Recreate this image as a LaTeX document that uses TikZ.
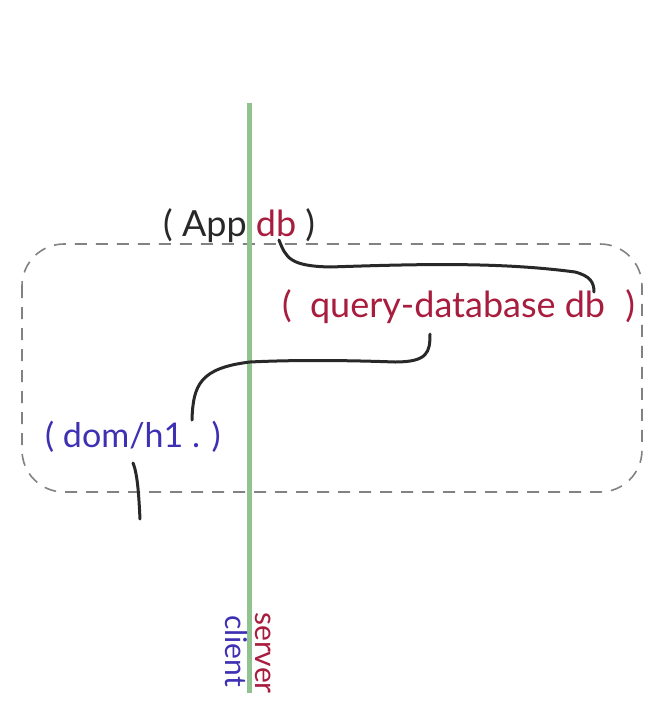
\documentclass[tikz,border=0pt]{standalone}
\usepackage{fontspec}
\setmainfont{Lato}
\definecolor{wire}{RGB}{40,40,40}
\definecolor{srv}{RGB}{168,28,62}
\definecolor{cli}{RGB}{62,48,178}
\definecolor{sepgreen}{RGB}{145,195,145}
\definecolor{dashgray}{RGB}{130,130,130}
\tikzset{
  lbl/.style={inner sep=0pt, font=\fontsize{36}{40}\selectfont},
  side/.style={inner sep=0pt, rotate=-90, anchor=base west, font=\fontsize{30}{34}\selectfont},
  wirec/.style={draw=wire, line width=3pt, line cap=round},
}
\begin{document}
\begin{tikzpicture}[x=1pt,y=-1pt]
\useasboundingbox (0,0) rectangle (655,721);
% dashed container
\draw[draw=dashgray, line width=1.6pt, dash pattern=on 12pt off 9pt, rounded corners=42pt] (22,244) rectangle (642,492);
% boundary line
\draw[draw=sepgreen, line width=5pt] (249,103) -- (249,693);
% labels
\node[lbl, anchor=base west, text=wire] (app) at (163,236) {( App \textcolor{srv}{db} )};
\node[lbl, anchor=base west, text=srv] (qdb) at (282,317) {(\hspace{9pt} query-database db\hspace{11pt} )};
\node[lbl, anchor=base west, text=cli, font=\fontsize{34}{38}\selectfont] (dom) at (45,447) {( dom/h1 . )};
\node[side, text=srv] (server) at (255,612) {server};
\node[side, text=cli] (client) at (225,615) {client};
% connectors
\coordinate (c1s) at (279,240);
\coordinate (c1e) at (594,292);
\draw[wirec] (c1s) .. controls (286,258) and (290,266) .. (330,267)
  .. controls (420,264) and (500,262) .. (575,272) .. controls (590,276) and (594,282) .. (c1e);
\coordinate (c2s) at (430,334);
\coordinate (c2e) at (192,420);
\draw[wirec] (c2s) .. controls (430,352) and (428,362) .. (395,362)
  .. controls (340,360) and (290,360) .. (250,362) .. controls (200,368) and (193,385) .. (c2e);
\coordinate (c3s) at (133,463);
\coordinate (c3e) at (140,519);
\draw[wirec] (c3s) .. controls (138,475) and (139,500) .. (c3e);
\end{tikzpicture}
\end{document}
